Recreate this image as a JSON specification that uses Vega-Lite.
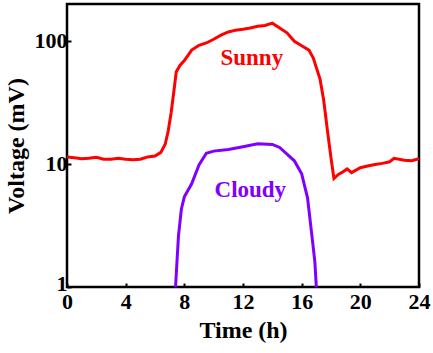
{
  "$schema": "https://vega.github.io/schema/vega-lite/v6.json",
  "autosize": "none",
  "width": 352,
  "height": 283,
  "padding": {"left": 67, "top": 4, "right": 14, "bottom": 66},
  "background": "white",
  "config": {
    "view": {"stroke": "black", "strokeWidth": 2.5},
    "font": "Times New Roman, serif"
  },
  "datasets": {
    "curves": [
      {"series": "Sunny", "t": 0, "v": 11.4},
      {"series": "Sunny", "t": 0.5, "v": 11.2},
      {"series": "Sunny", "t": 1, "v": 11.0},
      {"series": "Sunny", "t": 1.5, "v": 11.1},
      {"series": "Sunny", "t": 2, "v": 11.3},
      {"series": "Sunny", "t": 2.5, "v": 10.9},
      {"series": "Sunny", "t": 3, "v": 10.9},
      {"series": "Sunny", "t": 3.5, "v": 11.1},
      {"series": "Sunny", "t": 4, "v": 10.9},
      {"series": "Sunny", "t": 4.5, "v": 10.8},
      {"series": "Sunny", "t": 5, "v": 10.9},
      {"series": "Sunny", "t": 5.5, "v": 11.4},
      {"series": "Sunny", "t": 6, "v": 11.6},
      {"series": "Sunny", "t": 6.4, "v": 12.4},
      {"series": "Sunny", "t": 6.7, "v": 14.5},
      {"series": "Sunny", "t": 6.9, "v": 18.5},
      {"series": "Sunny", "t": 7.1, "v": 26},
      {"series": "Sunny", "t": 7.3, "v": 40},
      {"series": "Sunny", "t": 7.45, "v": 56},
      {"series": "Sunny", "t": 7.7, "v": 63},
      {"series": "Sunny", "t": 8, "v": 69},
      {"series": "Sunny", "t": 8.5, "v": 84},
      {"series": "Sunny", "t": 9, "v": 92},
      {"series": "Sunny", "t": 9.5, "v": 96},
      {"series": "Sunny", "t": 10, "v": 103},
      {"series": "Sunny", "t": 10.5, "v": 111},
      {"series": "Sunny", "t": 11, "v": 118},
      {"series": "Sunny", "t": 11.5, "v": 122},
      {"series": "Sunny", "t": 12, "v": 124},
      {"series": "Sunny", "t": 12.5, "v": 127},
      {"series": "Sunny", "t": 13, "v": 131},
      {"series": "Sunny", "t": 13.5, "v": 133},
      {"series": "Sunny", "t": 14, "v": 139},
      {"series": "Sunny", "t": 14.5, "v": 127},
      {"series": "Sunny", "t": 15, "v": 116},
      {"series": "Sunny", "t": 15.5, "v": 99},
      {"series": "Sunny", "t": 16, "v": 91},
      {"series": "Sunny", "t": 16.5, "v": 84},
      {"series": "Sunny", "t": 16.8, "v": 72},
      {"series": "Sunny", "t": 17.05, "v": 58},
      {"series": "Sunny", "t": 17.25, "v": 49},
      {"series": "Sunny", "t": 17.5, "v": 33},
      {"series": "Sunny", "t": 17.75, "v": 19},
      {"series": "Sunny", "t": 18, "v": 11.2},
      {"series": "Sunny", "t": 18.2, "v": 7.6},
      {"series": "Sunny", "t": 18.5, "v": 8.2},
      {"series": "Sunny", "t": 18.8, "v": 8.6},
      {"series": "Sunny", "t": 19.1, "v": 9.1},
      {"series": "Sunny", "t": 19.4, "v": 8.5},
      {"series": "Sunny", "t": 20, "v": 9.3},
      {"series": "Sunny", "t": 20.5, "v": 9.6},
      {"series": "Sunny", "t": 21, "v": 9.9},
      {"series": "Sunny", "t": 21.5, "v": 10.1},
      {"series": "Sunny", "t": 22, "v": 10.4},
      {"series": "Sunny", "t": 22.3, "v": 11.1},
      {"series": "Sunny", "t": 23, "v": 10.7},
      {"series": "Sunny", "t": 23.5, "v": 10.6},
      {"series": "Sunny", "t": 24, "v": 11.0},
      {"series": "Cloudy", "t": 7.4, "v": 1.0},
      {"series": "Cloudy", "t": 7.6, "v": 2.6},
      {"series": "Cloudy", "t": 7.8, "v": 4.3},
      {"series": "Cloudy", "t": 8, "v": 5.4},
      {"series": "Cloudy", "t": 8.5, "v": 6.9},
      {"series": "Cloudy", "t": 9, "v": 9.8},
      {"series": "Cloudy", "t": 9.5, "v": 12.2},
      {"series": "Cloudy", "t": 10, "v": 12.7},
      {"series": "Cloudy", "t": 11, "v": 13.1},
      {"series": "Cloudy", "t": 12, "v": 13.8},
      {"series": "Cloudy", "t": 13, "v": 14.6},
      {"series": "Cloudy", "t": 14, "v": 14.4},
      {"series": "Cloudy", "t": 14.5, "v": 13.6},
      {"series": "Cloudy", "t": 15, "v": 12.0},
      {"series": "Cloudy", "t": 15.5, "v": 10.6},
      {"series": "Cloudy", "t": 16, "v": 8.3},
      {"series": "Cloudy", "t": 16.4, "v": 5.3},
      {"series": "Cloudy", "t": 16.7, "v": 2.6},
      {"series": "Cloudy", "t": 16.9, "v": 1.6},
      {"series": "Cloudy", "t": 17.0, "v": 1.0}
    ],
    "labels": [
      {"series": "Sunny", "t": 12.6, "v": 73},
      {"series": "Cloudy", "t": 12.5, "v": 6.1}
    ]
  },
  "layer": [
    {
      "data": {"name": "curves"},
      "mark": {"type": "line", "strokeWidth": 3, "clip": true},
      "encoding": {
        "x": {
          "field": "t", "type": "quantitative",
          "scale": {"domain": [0, 24], "nice": false},
          "axis": {
            "title": "Time (h)", "values": [0, 4, 8, 12, 16, 20, 24],
            "grid": false, "domain": false,
            "tickSize": -4, "tickWidth": 2, "tickColor": "black",
            "labelFont": "Times New Roman, serif", "labelFontWeight": "bold", "labelFontSize": 22, "labelColor": "black",
            "labelPadding": 8, "labelFlush": false,
            "titleFont": "Times New Roman, serif", "titleFontWeight": "bold", "titleFontSize": 24, "titleColor": "black",
            "titlePadding": 6
          }
        },
        "y": {
          "field": "v", "type": "quantitative",
          "scale": {"type": "log", "domain": [1, 199], "nice": false},
          "axis": {
            "title": "Voltage (mV)", "values": [1, 10, 100],
            "grid": false, "domain": false,
            "tickSize": -4, "tickWidth": 2, "tickColor": "black",
            "labelFont": "Times New Roman, serif", "labelFontWeight": "bold", "labelFontSize": 22, "labelColor": "black",
            "labelPadding": 4, "labelFlush": false,
            "labelOffset": {"expr": "datum.value == 1 ? -4 : 0"},
            "titleFont": "Times New Roman, serif", "titleFontWeight": "bold", "titleFontSize": 24, "titleColor": "black",
            "titlePadding": 6
          }
        },
        "color": {
          "field": "series", "type": "nominal",
          "scale": {"domain": ["Sunny", "Cloudy"], "range": ["#ff0000", "#8000ff"]},
          "legend": null
        }
      }
    },
    {
      "data": {"name": "labels"},
      "mark": {"type": "text", "font": "Times New Roman, serif", "fontWeight": "bold", "fontSize": 23, "align": "center", "baseline": "middle"},
      "encoding": {
        "x": {"field": "t", "type": "quantitative"},
        "y": {"field": "v", "type": "quantitative"},
        "text": {"field": "series"},
        "color": {"field": "series", "type": "nominal", "legend": null}
      }
    }
  ]
}
